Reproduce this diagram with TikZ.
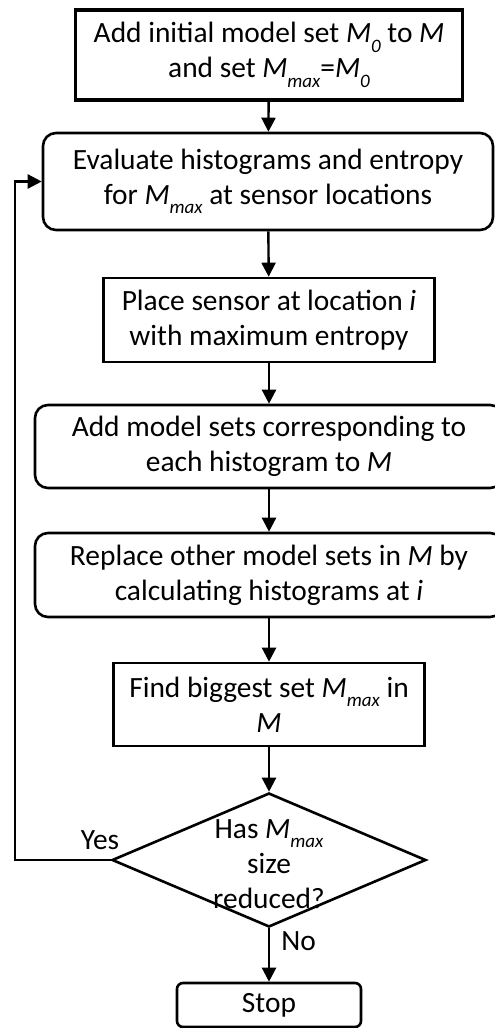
\documentclass[tikz,border=0pt]{standalone}
\usepackage{fontspec}
\setmainfont{Carlito}
\usetikzlibrary{arrows.meta,shapes.geometric}
\newcommand\mysub[1]{\raisebox{-0.32em}{\fontsize{19}{19}\selectfont\itshape #1}}
\newcommand\Mv{\textit{M}}
\begin{document}
\begin{tikzpicture}[x=1pt,y=-1pt,
  every node/.style={font=\fontsize{29.4}{35}\selectfont, align=center, inner sep=0pt},
  plainbox/.style={draw, line width=2.6pt, minimum width=#1},
  roundbox/.style={draw, line width=2.6pt, rounded corners=13pt, minimum width=#1},
  decision/.style={draw, diamond, line width=2.6pt, minimum width=314pt, minimum height=134pt, inner sep=0pt, aspect=2.34},
  arr/.style={line width=2.4pt, -{Triangle[width=14pt,length=14pt]}},
  loopline/.style={line width=2.4pt, -{Triangle[width=14pt,length=14pt]}}]
\useasboundingbox (0,0) rectangle (495,1028);

% process steps, top to bottom
\node[plainbox=387pt, minimum height=90pt, line width=3.8pt] (b1) at (269,55)
  {Add initial model set \Mv\mysub{0} to \Mv\\and set \Mv\mysub{max}=\Mv\mysub{0}};
\node[roundbox=450pt, minimum height=97pt] (b2) at (268,181.5)
  {Evaluate histograms and entropy\\for \Mv\mysub{max} at sensor locations};
\node[plainbox=331pt, minimum height=84pt] (b3) at (269,320)
  {Place sensor at location \textit{i}\\with maximum entropy};
\node[roundbox=468pt, minimum height=83pt] (b4) at (269,446.5)
  {Add model sets corresponding to\\each histogram to \Mv};
\node[roundbox=468pt, minimum height=84pt] (b5) at (269,575)
  {Replace other model sets in \Mv{} by\\calculating histograms at \textit{i}};
\node[plainbox=311pt, minimum height=83pt] (b6) at (269,704.5)
  {Find biggest set \Mv\mysub{max} in\\\Mv};
\node[decision] (d) at (269,860) {};
\node (dtext) at (269,864) {Has \Mv\mysub{max}\\size\\reduced?};
\node[draw, line width=2.6pt, rounded corners=6pt, minimum width=184pt, minimum height=44pt] (stop) at (269,1005) {Stop};

% main flow
\draw[arr] (b1) -- (b2);
\draw[arr] (b2) -- (b3);
\draw[arr] (b3) -- (b4);
\draw[arr] (b4) -- (b5);
\draw[arr] (b5) -- (b6);
\draw[arr] (b6) -- (d);
\draw[arr] (d) -- (stop);

% feedback loop
\coordinate (corner) at (15,860);
\draw[loopline] (d.west) -- (corner) |- (b2.west);

\node[anchor=base] (yes) at (100,849) {Yes};
\node[anchor=base] (no) at (298.5,950) {No};
\end{tikzpicture}
\end{document}
